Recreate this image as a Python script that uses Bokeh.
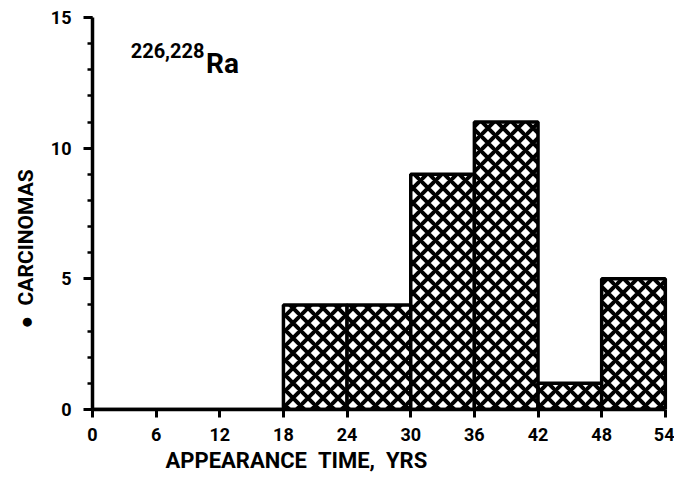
import math
from bokeh.plotting import figure
from bokeh.models import Range1d, FixedTicker, Label, ColumnDataSource, Title
from bokeh.embed import file_html
from bokeh.resources import INLINE

# Data (histogram of appearance time, years)
bin_left = [0, 6, 12, 18, 24, 30, 36, 42, 48]
bin_right = [6, 12, 18, 24, 30, 36, 42, 48, 54]
carcinomas = [0, 0, 0, 4, 4, 9, 11, 1, 5]
x_ticks = [0, 6, 12, 18, 24, 30, 36, 42, 48, 54]
y_ticks = [0, 5, 10, 15]
y_minor = list(range(0, 16))

FONT = "Roboto"
NB = "\u00a0"

p = figure(width=674, height=478, output_backend="svg", toolbar_location=None,
           x_range=Range1d(0, 54.3), y_range=Range1d(0, 15),
           min_border_left=92, min_border_right=6, min_border_top=17, min_border_bottom=69)
p.outline_line_color = None
p.grid.visible = False
p.background_fill_color = "white"
p.border_fill_color = "white"

src = ColumnDataSource(dict(left=bin_left, right=bin_right, top=carcinomas,
                            bottom=[0] * len(carcinomas)))
p.quad(left="left", right="right", top="top", bottom="bottom", source=src,
       fill_color="white", line_color="black", line_width=3.5,
       hatch_pattern="diagonal_cross", hatch_color="black", hatch_scale=15, hatch_weight=4)

# axes
for ax in (p.xaxis[0], p.yaxis[0]):
    ax.axis_line_width = 3.5
    ax.axis_line_color = "black"
    ax.major_tick_line_width = 3
    ax.major_tick_line_color = "black"
    ax.major_tick_in = 0
    ax.minor_tick_in = 0
    ax.major_label_text_font = FONT
    ax.major_label_text_font_style = "bold"
    ax.major_label_text_font_size = "18px"
    ax.major_label_text_color = "black"

p.xaxis.bounds = (0, 54)
p.xaxis.ticker = FixedTicker(ticks=x_ticks)
p.xaxis.major_tick_out = 8
p.xaxis.minor_tick_line_color = None
p.xaxis.major_label_standoff = 10

p.yaxis.bounds = (0, 15)
p.yaxis.ticker = FixedTicker(ticks=y_ticks, minor_ticks=y_minor)
p.yaxis.major_tick_out = 9
p.yaxis.minor_tick_out = 5
p.yaxis.minor_tick_line_width = 2.5
p.yaxis.minor_tick_line_color = "black"
p.yaxis.major_label_standoff = 12

# axis titles
p.add_layout(Title(text="APPEARANCE" + NB * 2 + "TIME," + NB * 2 + "YRS", align="left",
                   offset=73, standoff=4, text_font=FONT, text_font_style="bold",
                   text_font_size="22px", text_color="black"), "below")
p.add_layout(Title(text="●" + NB * 2 + "CARCINOMAS", align="left", offset=81, standoff=20,
                   text_font=FONT, text_font_style="bold", text_font_size="21px",
                   text_color="black"), "left")

# isotope annotation
p.add_layout(Label(x=3.6, y=13.75, text="226,228", text_font=FONT, text_font_style="bold",
                   text_font_size="20px", text_align="left", text_baseline="middle",
                   text_color="black"))
p.add_layout(Label(x=10.7, y=13.25, text="Ra", text_font=FONT, text_font_style="bold",
                   text_font_size="28px", text_align="left", text_baseline="middle",
                   text_color="black"))

open("out.html", "w").write(file_html(p, INLINE))
